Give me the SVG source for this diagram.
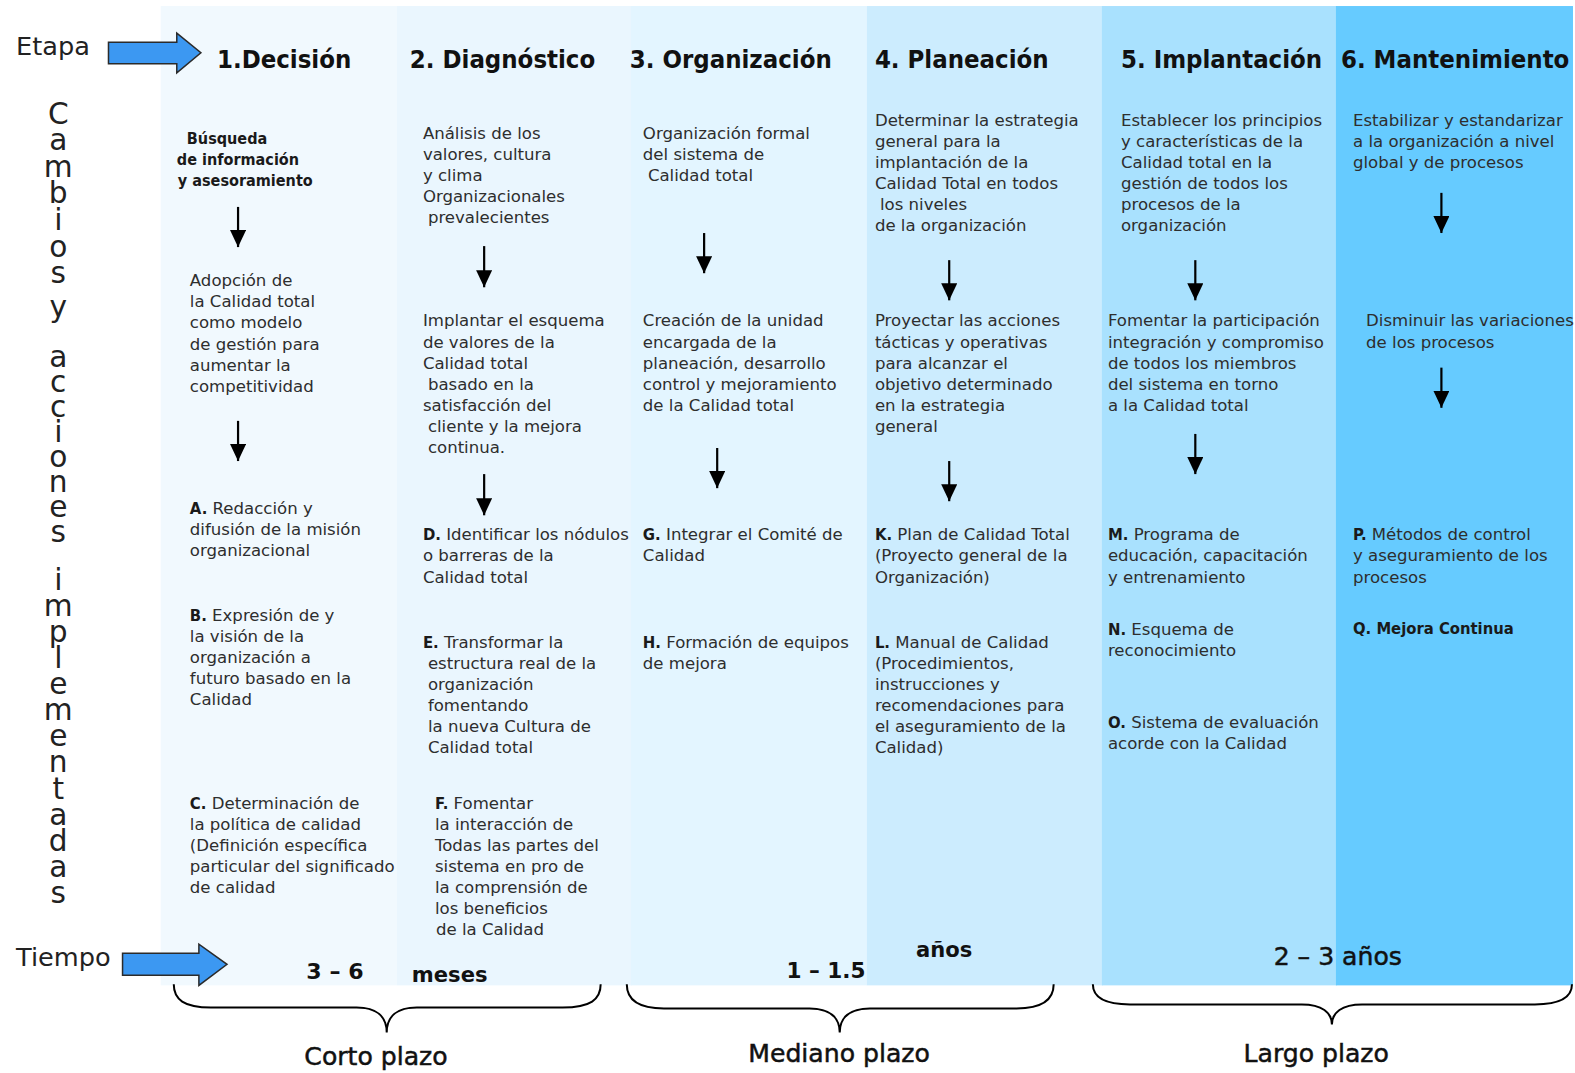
<svg xmlns="http://www.w3.org/2000/svg" width="1575" height="1073" viewBox="0 0 1575 1073">
  <style>
    .body { font-family: "DejaVu Sans", "Liberation Sans", sans-serif; font-size: 16.5px; fill: #2e2e2e; }
    .lbl { font-family: "DejaVu Sans Condensed", "DejaVu Sans", sans-serif; font-stretch: condensed; font-weight: bold; fill: #1a1a1a; }
    .title { font-family: "DejaVu Sans Condensed", "DejaVu Sans", sans-serif; font-stretch: condensed; font-weight: bold; font-size: 25.4px; fill: #111; }
    .side { font-family: "DejaVu Sans", sans-serif; font-size: 25.5px; fill: #222; }
    .vert { font-family: "DejaVu Sans", sans-serif; font-size: 29.5px; fill: #222; text-anchor: middle; }
    .time { font-family: "DejaVu Sans", sans-serif; font-size: 25px; fill: #111; stroke: #111; stroke-width: 0.5; }
    .timeb { font-family: "DejaVu Sans", sans-serif; font-weight: bold; fill: #111; }
    .flow { stroke: #000; stroke-width: 2.2; fill: none; marker-end: url(#ah); }
    .brace { stroke: #000; stroke-width: 2; fill: none; }
    .block { fill: #3c98f2; stroke: #2b2b2b; stroke-width: 1.5; stroke-linejoin: miter; }
  </style>
  <defs>
    <marker id="ah" markerUnits="userSpaceOnUse" viewBox="0 0 17 16" markerWidth="17" markerHeight="16" refX="17" refY="8" orient="auto">
      <path d="M0,0 L17,8 L0,16 z" fill="#000"/>
    </marker>
  </defs>
  <rect width="1575" height="1073" fill="#fff"/>
  <g transform="scale(1.00446)">
    <!-- stage columns, lighter to darker -->
    <g id="columns">
      <rect x="160" y="6" width="235" height="975" fill="#f1f9fe"/>
      <rect x="395" y="6" width="234" height="975" fill="#eaf6fe"/>
      <rect x="628" y="6" width="235" height="975" fill="#e3f5ff"/>
      <rect x="863" y="6" width="235" height="975" fill="#ccecfe"/>
      <rect x="1097" y="6" width="234" height="975" fill="#a9e1fe"/>
      <rect x="1330" y="6" width="236" height="975" fill="#66cbff"/>
    </g>

    <!-- row captions -->
    <g id="etapa">
      <text class="side" x="16" y="55">Etapa</text>
      <path class="block" d="M108,42 H176 V33 L200,52.5 L176,72.5 V63.5 H108 Z"/>
    </g>
    <g id="tiempo">
      <text class="side" x="16" y="962">Tiempo</text>
      <path class="block" d="M122,949 H198 V940 L226,960 L198,981 V971 H122 Z"/>
    </g>
    <!-- stacked side caption: one glyph per position -->
    <text class="vert" id="cambios"
      x="58 58 58 58 58 58 58 58 58 58 58 58 58 58 58 58 58 58 58 58 58 58 58 58 58 58 58 58 58 58 58 58"
      y="123.5 149.5 176 202.5 229 256 282 299 316 340 365 390 415 440 465 490 515 540 563 587 613 639 665 691 717 743 769 795 821 847 873 899">Cambios y acciones implementadas</text>

    <!-- 1. Decisión -->
    <g id="stage1">
      <text class="title" x="216" y="68">1.Decisión</text>
      <text class="lbl" font-size="16px"><tspan x="186" y="143">Búsqueda</tspan><tspan x="176" dy="21">de información</tspan><tspan x="177" dy="21">y asesoramiento</tspan></text>
      <text class="body"><tspan x="189" y="285">Adopción de</tspan><tspan x="189" dy="21">la Calidad total</tspan><tspan x="189" dy="21">como modelo</tspan><tspan x="189" dy="21">de gestión para</tspan><tspan x="189" dy="21">aumentar la</tspan><tspan x="189" dy="21">competitividad</tspan></text>
      <text class="body"><tspan x="189" y="512"><tspan class="lbl">A.</tspan> Redacción y</tspan><tspan x="189" dy="21">difusión de la misión</tspan><tspan x="189" dy="21">organizacional</tspan></text>
      <text class="body"><tspan x="189" y="618"><tspan class="lbl">B.</tspan> Expresión de  y</tspan><tspan x="189" dy="21">la visión de la</tspan><tspan x="189" dy="21">organización a</tspan><tspan x="189" dy="21">futuro basado en la</tspan><tspan x="189" dy="21">Calidad</tspan></text>
      <text class="body"><tspan x="189" y="805"><tspan class="lbl">C.</tspan> Determinación de</tspan><tspan x="189" dy="21">la política de calidad</tspan><tspan x="189" dy="21">(Definición específica</tspan><tspan x="189" dy="21">particular del significado</tspan><tspan x="189" dy="21">de calidad</tspan></text>
    </g>

    <!-- 2. Diagnóstico -->
    <g id="stage2">
      <text class="title" x="408" y="68">2. Diagnóstico</text>
      <text class="body"><tspan x="421" y="138">Análisis de los</tspan><tspan x="421" dy="21">valores, cultura</tspan><tspan x="421" dy="21">y clima</tspan><tspan x="421" dy="21">Organizacionales</tspan><tspan x="426" dy="21">prevalecientes</tspan></text>
      <text class="body"><tspan x="421" y="325">Implantar el esquema</tspan><tspan x="421" dy="21">de valores de la</tspan><tspan x="421" dy="21">Calidad total</tspan><tspan x="426" dy="21">basado en la</tspan><tspan x="421" dy="21">satisfacción del</tspan><tspan x="426" dy="21">cliente y la mejora</tspan><tspan x="426" dy="21">continua.</tspan></text>
      <text class="body"><tspan x="421" y="538"><tspan class="lbl">D.</tspan> Identificar los nódulos</tspan><tspan x="421" dy="21">o barreras de  la</tspan><tspan x="421" dy="21">Calidad total</tspan></text>
      <text class="body"><tspan x="421" y="645"><tspan class="lbl">E.</tspan> Transformar la</tspan><tspan x="426" dy="21">estructura real de la</tspan><tspan x="426" dy="21">organización</tspan><tspan x="426" dy="21">fomentando</tspan><tspan x="426" dy="21">la nueva Cultura de</tspan><tspan x="426" dy="21">Calidad total</tspan></text>
      <text class="body"><tspan x="433" y="805"><tspan class="lbl">F.</tspan>   Fomentar</tspan><tspan x="433" dy="21">la interacción de</tspan><tspan x="433" dy="21">Todas las partes del</tspan><tspan x="433" dy="21">sistema en pro de</tspan><tspan x="433" dy="21">la comprensión de</tspan><tspan x="433" dy="21">los beneficios</tspan><tspan x="434" dy="21">de la Calidad</tspan></text>
    </g>

    <!-- 3. Organización -->
    <g id="stage3">
      <text class="title" x="627" y="68">3. Organización</text>
      <text class="body"><tspan x="640" y="138">Organización formal</tspan><tspan x="640" dy="21">del sistema de</tspan><tspan x="645" dy="21">Calidad total</tspan></text>
      <text class="body"><tspan x="640" y="325">Creación de la unidad</tspan><tspan x="640" dy="21">encargada de la</tspan><tspan x="640" dy="21">planeación, desarrollo</tspan><tspan x="640" dy="21">control y mejoramiento</tspan><tspan x="640" dy="21">de la Calidad total</tspan></text>
      <text class="body"><tspan x="640" y="538"><tspan class="lbl">G.</tspan> Integrar el Comité de</tspan><tspan x="640" dy="21">Calidad</tspan></text>
      <text class="body"><tspan x="640" y="645"><tspan class="lbl">H.</tspan> Formación de equipos</tspan><tspan x="640" dy="21">de mejora</tspan></text>
    </g>

    <!-- 4. Planeación -->
    <g id="stage4">
      <text class="title" x="871" y="68">4. Planeación</text>
      <text class="body"><tspan x="871" y="125">Determinar la estrategia</tspan><tspan x="871" dy="21">general para la</tspan><tspan x="871" dy="21">implantación de la</tspan><tspan x="871" dy="21">Calidad Total en todos</tspan><tspan x="876" dy="21">los niveles</tspan><tspan x="871" dy="21">de la organización</tspan></text>
      <text class="body"><tspan x="871" y="325">Proyectar las acciones</tspan><tspan x="871" dy="21">tácticas y operativas</tspan><tspan x="871" dy="21">para alcanzar el</tspan><tspan x="871" dy="21">objetivo determinado</tspan><tspan x="871" dy="21">en la estrategia</tspan><tspan x="871" dy="21">general</tspan></text>
      <text class="body"><tspan x="871" y="538"><tspan class="lbl">K.</tspan> Plan de Calidad Total</tspan><tspan x="871" dy="21">(Proyecto general de la</tspan><tspan x="871" dy="21">Organización)</tspan></text>
      <text class="body"><tspan x="871" y="645"><tspan class="lbl">L.</tspan> Manual de Calidad</tspan><tspan x="871" dy="21">(Procedimientos,</tspan><tspan x="871" dy="21">instrucciones y</tspan><tspan x="871" dy="21">recomendaciones para</tspan><tspan x="871" dy="21">el aseguramiento de la</tspan><tspan x="871" dy="21">Calidad)</tspan></text>
    </g>

    <!-- 5. Implantación -->
    <g id="stage5">
      <text class="title" x="1116" y="68">5. Implantación</text>
      <text class="body"><tspan x="1116" y="125">Establecer los principios</tspan><tspan x="1116" dy="21">y características de la</tspan><tspan x="1116" dy="21">Calidad total en la</tspan><tspan x="1116" dy="21">gestión de todos los</tspan><tspan x="1116" dy="21">procesos de la</tspan><tspan x="1116" dy="21">organización</tspan></text>
      <text class="body"><tspan x="1103" y="325">Fomentar la participación</tspan><tspan x="1103" dy="21">integración y compromiso</tspan><tspan x="1103" dy="21">de todos los miembros</tspan><tspan x="1103" dy="21">del sistema en torno</tspan><tspan x="1103" dy="21">a la Calidad total</tspan></text>
      <text class="body"><tspan x="1103" y="538"><tspan class="lbl">M.</tspan> Programa de</tspan><tspan x="1103" dy="21">educación, capacitación</tspan><tspan x="1103" dy="21">y entrenamiento</tspan></text>
      <text class="body"><tspan x="1103" y="632"><tspan class="lbl">N.</tspan> Esquema de</tspan><tspan x="1103" dy="21">reconocimiento</tspan></text>
      <text class="body"><tspan x="1103" y="725"><tspan class="lbl">O.</tspan> Sistema de evaluación</tspan><tspan x="1103" dy="21">acorde con la Calidad</tspan></text>
    </g>

    <!-- 6. Mantenimiento -->
    <g id="stage6">
      <text class="title" x="1335" y="68">6. Mantenimiento</text>
      <text class="body"><tspan x="1347" y="125">Estabilizar y estandarizar</tspan><tspan x="1347" dy="21">a la organización a nivel</tspan><tspan x="1347" dy="21">global y de procesos</tspan></text>
      <text class="body"><tspan x="1360" y="325">Disminuir las variaciones</tspan><tspan x="1360" dy="21">de los procesos</tspan></text>
      <text class="body"><tspan x="1347" y="538"><tspan class="lbl">P.</tspan> Métodos de control</tspan><tspan x="1347" dy="21">y aseguramiento de los</tspan><tspan x="1347" dy="21">procesos</tspan></text>
      <text class="lbl" font-size="16.4px" x="1347" y="631">Q. Mejora Continua</text>
    </g>

    <!-- flow arrows inside each stage -->
    <g id="connectors">
      <line class="flow" x1="237" y1="206" x2="237" y2="246"/>
      <line class="flow" x1="237" y1="419" x2="237" y2="459"/>
      <line class="flow" x1="482" y1="245" x2="482" y2="286"/>
      <line class="flow" x1="482" y1="472" x2="482" y2="513"/>
      <line class="flow" x1="701" y1="232" x2="701" y2="272"/>
      <line class="flow" x1="714" y1="446" x2="714" y2="486"/>
      <line class="flow" x1="945" y1="259" x2="945" y2="299"/>
      <line class="flow" x1="945" y1="459" x2="945" y2="499"/>
      <line class="flow" x1="1190" y1="259" x2="1190" y2="299"/>
      <line class="flow" x1="1190" y1="432" x2="1190" y2="472"/>
      <line class="flow" x1="1435" y1="192" x2="1435" y2="232"/>
      <line class="flow" x1="1435" y1="366" x2="1435" y2="406"/>
    </g>

    <!-- time scale -->
    <g id="durations">
      <text class="timeb" font-size="22px" x="305" y="975">3 – 6</text>
      <text class="timeb" font-size="21px" x="410" y="978">meses</text>
      <text class="timeb" font-size="21.5px" x="783" y="974">1 – 1.5</text>
      <text class="timeb" font-size="21px" x="912" y="953">años</text>
      <text class="time" x="1268" y="961">2 – 3 años</text>
    </g>
    <g id="terms">
      <path class="brace" d="M173,980 C173,995 183,1003 210,1003 L355,1003 C375,1003 385,1012 385,1028 C385,1012 395,1003 415,1003 L560,1003 C588,1003 598,995 598,980"/>
      <path class="brace" d="M624,980 C624,995 634,1004 661,1004 L806,1004 C826,1004 836,1013 836,1028 C836,1013 846,1004 866,1004 L1012,1004 C1039,1004 1049,995 1049,980"/>
      <path class="brace" d="M1088,980 C1088,992 1098,1000 1125,1000 L1296,1000 C1316,1000 1326,1008 1326,1020 C1326,1008 1336,1000 1356,1000 L1528,1000 C1555,1000 1565,992 1565,980"/>
      <text class="time" x="303" y="1060">Corto plazo</text>
      <text class="time" x="745" y="1057">Mediano plazo</text>
      <text class="time" x="1238" y="1057">Largo  plazo</text>
    </g>
  </g>
</svg>
